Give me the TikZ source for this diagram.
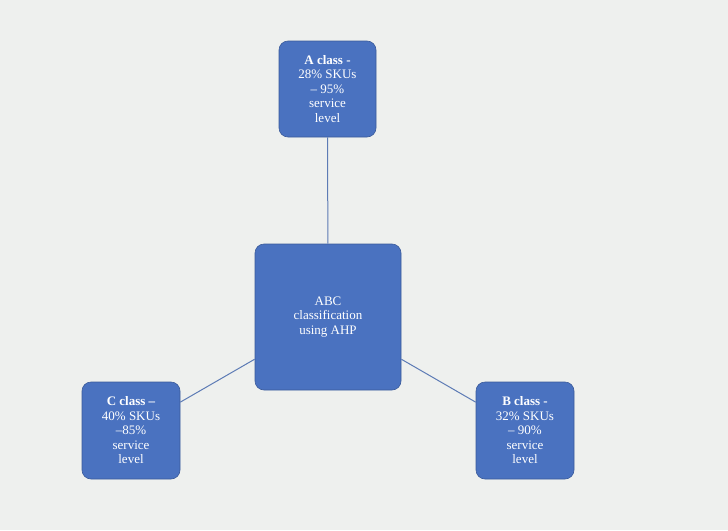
\documentclass[tikz,border=0pt]{standalone}
\usepackage{fontspec}
\setmainfont{Liberation Serif}
\begin{document}
\begin{tikzpicture}[x=1pt,y=-1pt,
  box/.style={fill=boxblue,draw=boxblue!80!black,line width=0.6pt,rounded corners=9pt,text=white,align=center,font=\fontsize{13}{14.5}\selectfont,inner sep=0pt},
  link/.style={draw=linec,line width=1pt}]
\definecolor{boxblue}{HTML}{4A72C0}
\definecolor{linec}{HTML}{5D7BB5}
\definecolor{bg}{HTML}{EEF0EE}
\fill[bg] (0,0) rectangle (728,530);
\useasboundingbox (0,0) rectangle (728,530);
\node[box,minimum width=146pt,minimum height=146pt] (c) at (328,317) {ABC\\classification\\using AHP};
\node[box,minimum width=97pt,minimum height=96pt] (a) at (327.5,89) {\textbf{A class -}\\28\% SKUs\\– 95\%\\service\\level};
\node[box,minimum width=98pt,minimum height=97pt] (cc) at (131,430.5) {\textbf{C class –}\\40\% SKUs\\–85\%\\service\\level};
\node[box,minimum width=98pt,minimum height=97pt] (b) at (525,430.5) {\textbf{B class -}\\32\% SKUs\\– 90\%\\service\\level};
\draw[link] (a) -- (c);
\draw[link] (c) -- (cc);
\draw[link] (c) -- (b);
\end{tikzpicture}
\end{document}
